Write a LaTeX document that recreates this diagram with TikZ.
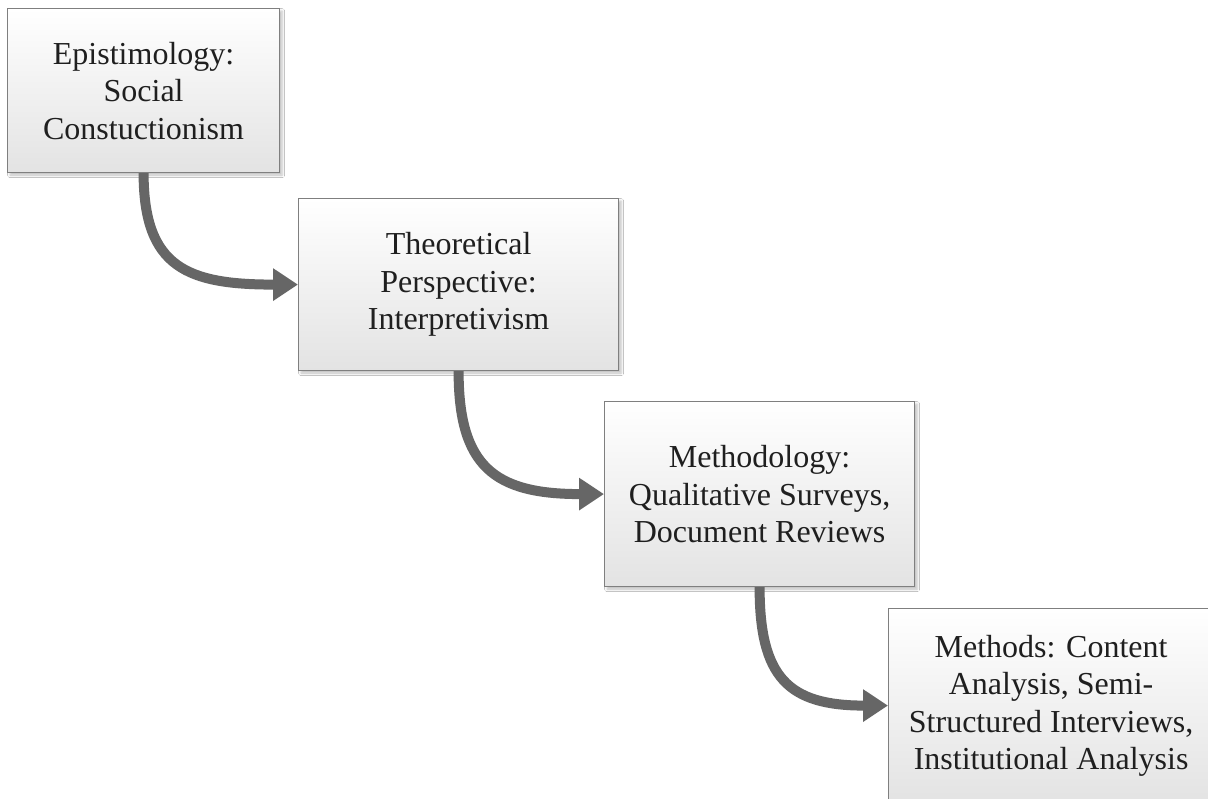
\documentclass[tikz,border=0pt]{standalone}
\usepackage{fontspec}
\setmainfont{Liberation Serif}
\usetikzlibrary{arrows.meta,shadows.blur}
\definecolor{edgegray}{HTML}{7F7F7F}
\definecolor{arrowgray}{HTML}{666666}
\definecolor{fillbot}{HTML}{E3E3E3}
\definecolor{inkgray}{HTML}{1F1F1F}
\begin{document}
\begin{tikzpicture}[x=1pt,y=-1pt,
  stepbox/.style={draw=edgegray, line width=1.2pt, top color=white, bottom color=fillbot,
    anchor=north west, inner sep=0pt, align=center, text=inkgray,
    font=\fontsize{32}{37.5}\selectfont,
    blur shadow={shadow xshift=2.5pt, shadow yshift=-2.5pt, shadow blur radius=2.5pt, shadow opacity=25}},
  flow/.style={draw=arrowgray, line width=10pt, -{Triangle[length=25pt,width=31pt]}}]
\clip (0,0) rectangle (1208,799);
\useasboundingbox (0,0) rectangle (1208,799);
\fill[white] (0,0) rectangle (1208,799);

% the four steps, stepping down to the right
\node[stepbox, minimum width=272pt, minimum height=164pt] (b1) at (7,8)
  {Epistimology:\\Social\\Constuctionism};
\node[stepbox, minimum width=320pt, minimum height=172pt] (b2) at (298,198)
  {Theoretical\\Perspective:\\Interpretivism};
\node[stepbox, minimum width=310pt, minimum height=185pt] (b3) at (604,401)
  {Methodology:\\Qualitative Surveys,\\Document Reviews};
\node[stepbox, minimum width=325pt, minimum height=194pt] (b4) at (888,608)
  {Methods: Content\\Analysis, Semi-\\Structured Interviews,\\Institutional Analysis};

% bent arrows from the bottom of each step to the left side of the next
\draw[flow] (b1.south) .. controls +(0,95) and +(-110,0) .. (b2.west);
\draw[flow] (b2.south) .. controls +(0,95) and +(-110,0) .. (b3.west);
\draw[flow] (b3.south) .. controls +(0,90) and +(-100,0) .. (b4.west);
\end{tikzpicture}
\end{document}
